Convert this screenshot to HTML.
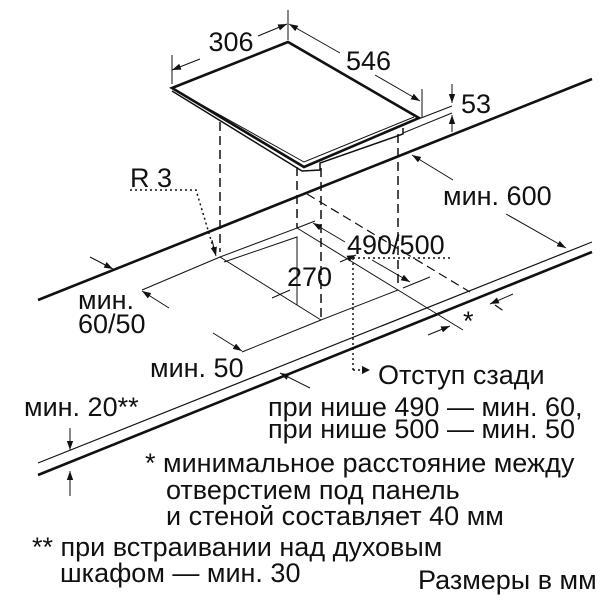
<!DOCTYPE html>
<html><head><meta charset="utf-8"><style>
html,body{margin:0;padding:0;background:#fff;}
svg{display:block;}
text{font-family:"Liberation Sans",Arial,sans-serif;fill:#111;}
</style></head><body>
<svg width="600" height="600" viewBox="0 0 600 600" xmlns="http://www.w3.org/2000/svg">
<defs>
<marker id="a" viewBox="0 0 10 10" refX="10" refY="5" markerWidth="9" markerHeight="9" orient="auto-start-reverse" markerUnits="userSpaceOnUse"><path d="M0,1.5 L10,5 L0,8.5 z" fill="#111"/></marker>
</defs>
<g stroke="#111" fill="none">
<path d="M172,88 L288,42 L419,118 L304,167 Z" stroke-width="2.6"/>
<path d="M177,91 L304,162 L414,117" stroke-width="1"/>
<path d="M172,91 L302,171 L320,170 L320,163 L403,134 L403,128" stroke-width="1.5"/>
<line x1="288" y1="10" x2="288" y2="40" stroke-width="1"/>
<line x1="172" y1="55" x2="172" y2="84" stroke-width="1"/>
<line x1="200" y1="59" x2="172" y2="70" stroke-width="1" marker-end="url(#a)"/>
<line x1="258" y1="36" x2="287" y2="24" stroke-width="1" marker-end="url(#a)"/>
<line x1="340" y1="53" x2="289" y2="24" stroke-width="1" marker-end="url(#a)"/>
<line x1="375" y1="75" x2="420" y2="101" stroke-width="1" marker-end="url(#a)"/>
<line x1="422" y1="89" x2="422" y2="118" stroke-width="1"/>
<line x1="421" y1="118" x2="452" y2="106" stroke-width="1"/>
<line x1="403" y1="133" x2="452" y2="113" stroke-width="1"/>
<line x1="452" y1="84" x2="452" y2="103" stroke-width="1" marker-end="url(#a)"/>
<line x1="452" y1="132" x2="452" y2="115" stroke-width="1" marker-end="url(#a)"/>
<line x1="38" y1="300" x2="592" y2="79" stroke-width="2.6"/>
<line x1="38" y1="463" x2="592" y2="242" stroke-width="1.2"/>
<line x1="38" y1="475" x2="592" y2="252" stroke-width="2.6"/>
<g stroke-dasharray="9,5" stroke-width="1.5">
<line x1="220" y1="122" x2="220" y2="252"/>
<line x1="297" y1="167" x2="297" y2="228"/>
<line x1="321" y1="168" x2="321" y2="320"/>
<line x1="398" y1="134" x2="398" y2="288"/>
<line x1="307" y1="194" x2="470" y2="292" stroke-width="1.2"/>
<line x1="495" y1="305" x2="505" y2="312" stroke-width="1.2"/>
</g>
<path d="M220,257 L297,228 L398,290 L321,320 Z" stroke-width="1"/>
<path d="M224,262 L297,237 L297,305" stroke-width="1"/>
<line x1="398" y1="290" x2="463" y2="330" stroke-width="1"/>
<line x1="290" y1="290" x2="272" y2="298" stroke-width="1"/>
<line x1="340" y1="262" x2="356" y2="255" stroke-width="1" marker-end="url(#a)"/>
<line x1="345" y1="242" x2="313" y2="223" stroke-width="1" marker-end="url(#a)"/>
<line x1="372" y1="260" x2="410" y2="282" stroke-width="1" marker-end="url(#a)"/>
<line x1="403" y1="288" x2="430" y2="277" stroke-width="1"/>
<line x1="297" y1="228" x2="315" y2="221" stroke-width="1"/>
<g stroke-dasharray="2,3" stroke-width="1.5">
<line x1="353" y1="258" x2="452" y2="258"/>
<line x1="353" y1="258" x2="353" y2="370"/>
<line x1="353" y1="370" x2="362" y2="370"/>
<polyline points="130,190 196,190 214,250"/>
</g>
<path d="M370,370 l-8,-4 v8 z" fill="#111" stroke="none"/>
<line x1="212" y1="240" x2="216" y2="256" stroke-width="1" marker-end="url(#a)"/>
<line x1="453" y1="180" x2="412" y2="155" stroke-width="1" marker-end="url(#a)"/>
<line x1="506" y1="214" x2="566" y2="248" stroke-width="1" marker-end="url(#a)"/>
<line x1="513" y1="294" x2="490" y2="304" stroke-width="1" marker-end="url(#a)"/>
<line x1="428" y1="335" x2="450" y2="326" stroke-width="1" marker-end="url(#a)"/>
<line x1="142" y1="290" x2="220" y2="257" stroke-width="1"/>
<line x1="169" y1="308" x2="142" y2="291" stroke-width="1" marker-end="url(#a)"/>
<line x1="90" y1="257" x2="113" y2="269" stroke-width="1" marker-end="url(#a)"/>
<line x1="242" y1="352" x2="321" y2="320" stroke-width="1"/>
<line x1="213" y1="333" x2="242" y2="351" stroke-width="1" marker-end="url(#a)"/>
<line x1="310" y1="388" x2="280" y2="373" stroke-width="1" marker-end="url(#a)"/>
<line x1="70" y1="428" x2="70" y2="450" stroke-width="1" marker-end="url(#a)"/>
<line x1="70" y1="496" x2="70" y2="471" stroke-width="1" marker-end="url(#a)"/>
</g>
<g font-size="27">
<text x="231" y="51" text-anchor="middle">306</text>
<text x="346" y="70">546</text>
<text x="461" y="113">53</text>
<text x="130" y="187">R 3</text>
<text x="443" y="205">мин. 600</text>
<text x="347" y="254">490/500</text>
<text x="287" y="286">270</text>
<text x="78" y="309">мин.</text>
<text x="78" y="333">60/50</text>
<text x="463" y="330">*</text>
<text x="150" y="377">мин. 50</text>
<text x="378" y="384">Отступ сзади</text>
<text x="24" y="416">мин. 20**</text>
<text x="268" y="416">при нише 490 — мин. 60,</text>
<text x="268" y="438">при нише 500 — мин. 50</text>
<text x="145" y="472">* минимальное расстояние между</text>
<text x="166" y="499">отверстием под панель</text>
<text x="166" y="525">и стеной составляет 40 мм</text>
<text x="32" y="556">** при встраивании над духовым</text>
<text x="60" y="582">шкафом — мин. 30</text>
<text x="418" y="589">Размеры в мм</text>
</g>
</svg>
</body></html>
